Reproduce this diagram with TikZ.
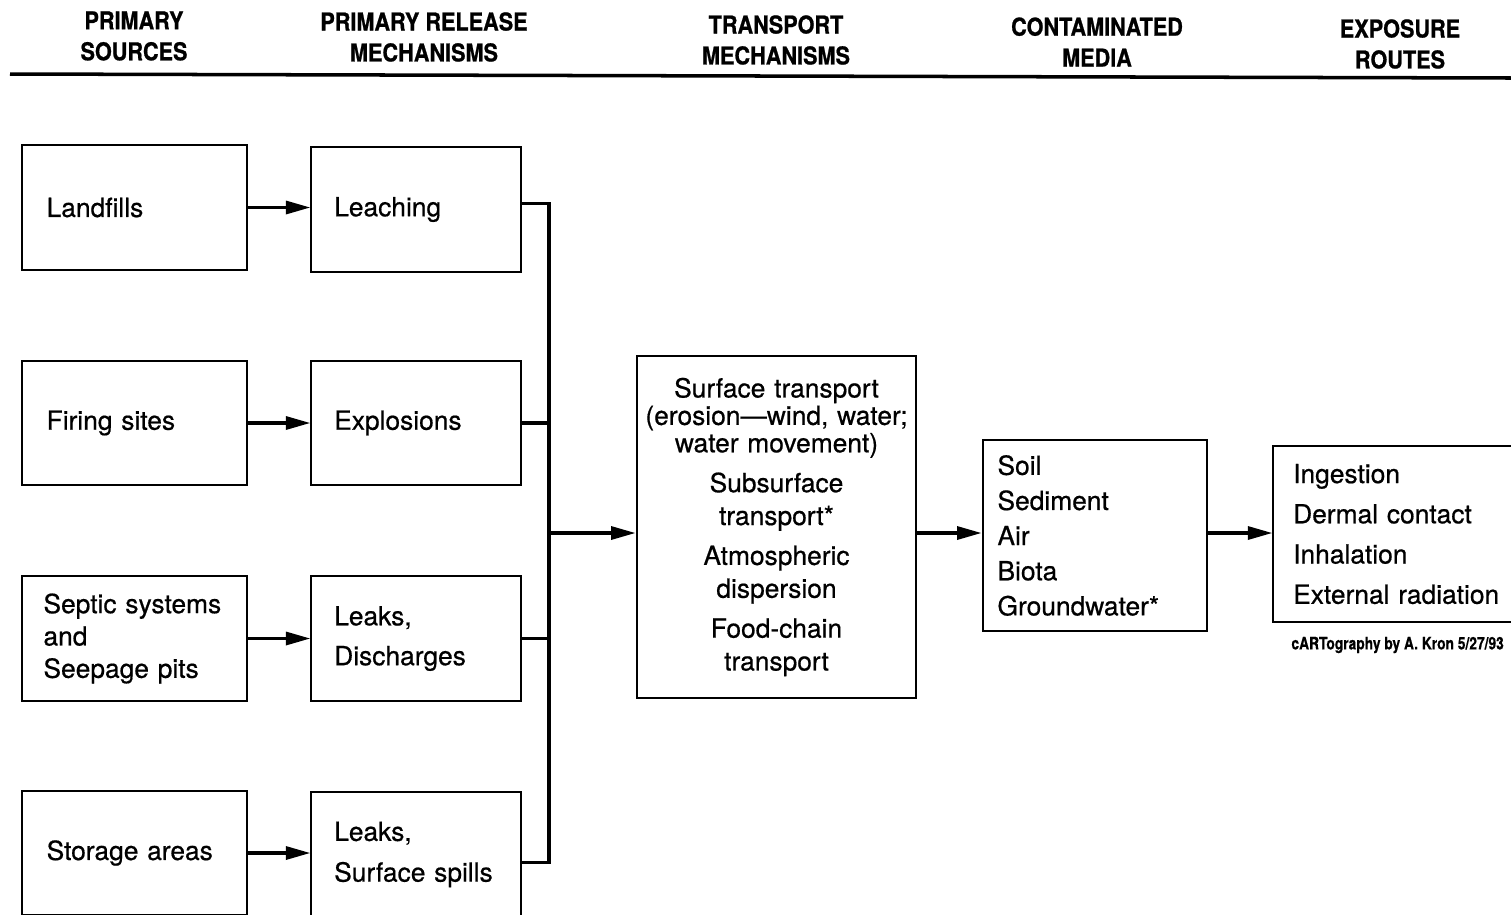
\documentclass[tikz,border=0pt]{standalone}
\usepackage{fontspec}
\setmainfont[FakeBold=0.6]{TeX Gyre Heros}
\newfontfamily\headfont[FakeStretch=0.88,FakeBold=0.8]{TeX Gyre Heros}
\newfontfamily\creditfont[FakeStretch=0.8,FakeBold=0.5]{TeX Gyre Heros}
\usetikzlibrary{arrows.meta}
\tikzset{
  basebox/.style={draw,line width=1.1pt,align=left,inner ysep=0pt},
  srcbox/.style={basebox,minimum height=71pt,text width=100pt,inner xsep=13.8pt},
  relbox/.style={basebox,minimum height=71pt,text width=93.1pt,inner xsep=13pt},
  head/.style={font=\headfont\bfseries\fontsize{14}{17.6}\selectfont,align=center},
  link/.style={line width=1.9pt},
  arrow/.style={link,-{Triangle[length=14pt,width=7.4pt]}}
}
\begin{document}
\begin{tikzpicture}[x=0.02cm,y=-0.02cm,
    body/.style={font=\fontsize{15}{#1}\selectfont},
    body/.default=18.4]
  \useasboundingbox (0,0) rectangle (1511,914);

  \node[head] (h1) at (134,36) {PRIMARY\\SOURCES};
  \node[head] (h2) at (424,37) {PRIMARY RELEASE\\MECHANISMS};
  \node[head] (h3) at (776,40) {TRANSPORT\\MECHANISMS};
  \node[head] (h4) at (1097,42) {CONTAMINATED\\MEDIA};
  \node[head] (h5) at (1400,44) {EXPOSURE\\ROUTES};
  \draw[line width=2pt] (10,74) -- (1511,78);

  \node[srcbox,body] (land) at (134.5,207.5) {Landfills};
  \node[srcbox,body] (fire) at (134.5,423) {Firing sites};
  \node[srcbox,body,inner xsep=12pt,text width=103.6pt] (septic) at (134.5,638.5) {Septic systems\\and\\Seepage pits};
  \node[srcbox,body] (store) at (134.5,853) {Storage areas};

  \node[relbox,body] (leach) at (416,209.5) {Leaching};
  \node[relbox,body] (expl) at (416,423) {Explosions};
  \node[relbox,body=22.7] (disch) at (416,638.5) {Leaks,\\Discharges};
  \node[relbox,body=23.2] (spill) at (416,854.5) {Leaks,\\Surface spills};

  \node[basebox,body=18.7,align=center,minimum height=195pt,text width=152pt,inner xsep=3.65pt] (trans) at (776.5,527)
    {Surface transport\\[-3.1pt](erosion---wind, water;\\[-3.1pt]water movement)\\[4pt]
     Subsurface\\transport*\\[4pt]Atmospheric\\dispersion\\[4pt]Food-chain\\transport};
  \node[basebox,body=20,minimum height=108.3pt,text width=111pt,inner xsep=8.5pt] (media) at (1095,535.5)
    {Soil\\Sediment\\Air\\Biota\\Groundwater*};
  \node[basebox,body=22.9,minimum height=99.8pt,text width=125pt,inner xsep=11.3pt] (expo) at (1403,534)
    {Ingestion\\Dermal contact\\Inhalation\\External radiation};
  \node[anchor=east,font=\creditfont\bfseries\fontsize{9.8}{11}\selectfont] (credit) at (1510,645)
    {cARTography by A. Kron 5/27/93};

  \coordinate (bus) at (549,533);
  \coordinate (top) at ([yshift=3.4pt]leach.east);
  \coordinate (bot) at ([yshift=-4.5pt]spill.east);
  \draw[arrow] (land.east) -- (land.east -| leach.west);
  \draw[arrow] (fire.east) -- (fire.east -| expl.west);
  \draw[arrow] (septic.east) -- (septic.east -| disch.west);
  \draw[arrow] (store.east) -- (store.east -| spill.west);

  \draw[link] (top) -- (top -| bus) -- (bot -| bus) -- (bot);
  \draw[link] (expl.east) -- (expl.east -| bus);
  \draw[link] (disch.east) -- (disch.east -| bus);
  \draw[arrow] (bus) -- (bus -| trans.west);
  \draw[arrow] (bus -| trans.east) -- (bus -| media.west);
  \draw[arrow] (bus -| media.east) -- (bus -| expo.west);
\end{tikzpicture}
\end{document}
